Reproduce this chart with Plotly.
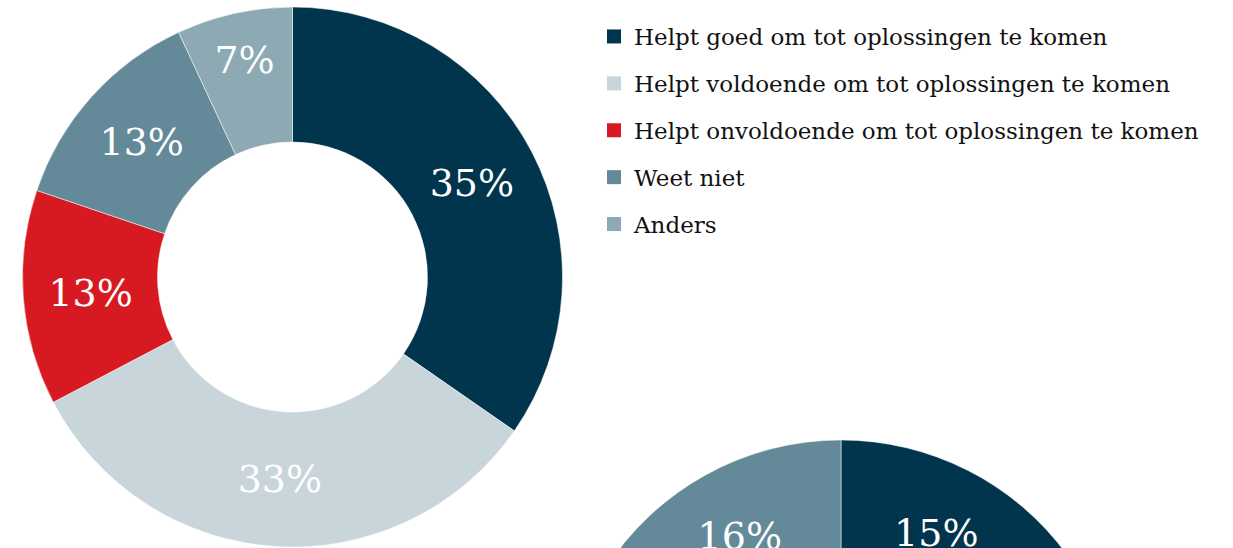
import plotly.graph_objects as go

# Survey answers and their colours
categories = [
    "Helpt goed om tot oplossingen te komen",
    "Helpt voldoende om tot oplossingen te komen",
    "Helpt onvoldoende om tot oplossingen te komen",
    "Weet niet",
    "Anders",
]
colors = ["#01344D", "#C8D5DB", "#D71A21", "#648A99", "#8CA9B4"]

# First group (percentages)
values_a = [35, 33, 13, 13, 7]

# Second group (percentages); no "Anders" answers here
categories_b = categories[:4]
values_b = [15, 45, 24, 16]

W, H = 1233, 1100
FONT = "Georgia, 'DejaVu Serif', serif"


def dom(cx, cy, r):
    """Pie domain (paper fractions) for a circle given in pixels from the top-left."""
    return dict(
        x=[(cx - r) / W, (cx + r) / W],
        y=[1 - (cy + r) / H, 1 - (cy - r) / H],
    )


def donut(labels, values, domain):
    return go.Pie(
        labels=labels,
        values=values,
        marker=dict(colors=colors[: len(labels)], line=dict(color="white", width=0.5)),
        hole=0.5,
        sort=False,
        direction="clockwise",
        rotation=0,
        texttemplate="%{value}%",
        textposition="inside",
        insidetextorientation="horizontal",
        textfont=dict(family=FONT, size=38, color="white"),
        hoverinfo="label+value",
        showlegend=False,
        domain=domain,
    )


fig = go.Figure()
fig.add_trace(donut(categories, values_a, dom(292.5, 277, 270)))
fig.add_trace(donut(categories_b, values_b, dom(841, 720, 280)))

# Legend entries (one per answer) with square swatches
for name, col in zip(categories, colors):
    fig.add_trace(
        go.Scatter(
            x=[None], y=[None], mode="markers", name=name,
            legendgroup=name,
            marker=dict(symbol="square", size=14, color=col),
        )
    )

fig.update_layout(
    width=W,
    height=H,
    autosize=False,
    margin=dict(l=0, r=0, t=0, b=0),
    paper_bgcolor="white",
    plot_bgcolor="white",
    xaxis=dict(visible=False),
    yaxis=dict(visible=False),
    legend=dict(
        x=594 / W,
        xanchor="left",
        y=1 - 15 / H,
        yanchor="top",
        font=dict(family=FONT, size=23, color="#111111"),
        tracegroupgap=14,
        itemclick=False,
        itemdoubleclick=False,
    ),
)

fig.write_html(
    "out.html",
    post_script="document.documentElement.style.overflow='hidden';"
    "document.body.style.overflow='hidden';document.body.style.margin='0';",
)
